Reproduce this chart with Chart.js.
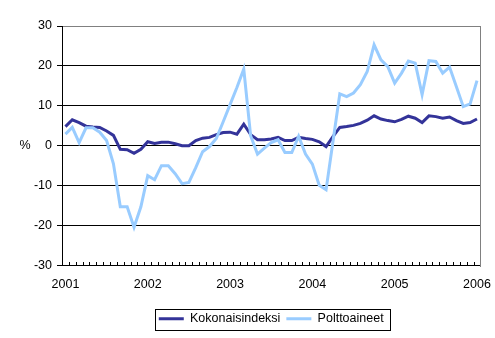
<!DOCTYPE html>
<html>
<head>
<meta charset="utf-8">
<script src="https://cdn.jsdelivr.net/npm/chart.js@4.4.1/dist/chart.umd.min.js"></script>
<style>
  html, body { margin: 0; padding: 0; background: #fff; }
  #wrap { width: 495px; height: 338px; position: relative; }
</style>
</head>
<body>
<div id="wrap"><canvas id="chart"></canvas></div>
<script>
// Year labels on the category axis
const years = ['2001', '2002', '2003', '2004', '2005', '2006'];

// One category per month, 2001/1 .. 2006/1
const months = [];
years.forEach((y, i) => {
  const last = i === years.length - 1 ? 1 : 12;
  for (let m = 1; m <= last; m++) months.push(y + '/' + m);
});

// Annual change, %
const kokonaisindeksi = [
  4.8, 6.5, 5.8, 4.9, 4.7, 4.6, 3.7, 2.6, -0.9, -1.0, -1.9, -0.9,
  1.0, 0.6, 0.9, 0.9, 0.5, 0.0, 0.0, 1.3, 1.9, 2.1, 2.8, 3.3,
  3.4, 2.9, 5.4, 2.8, 1.5, 1.5, 1.7, 2.1, 1.3, 1.3, 2.1, 1.8,
  1.6, 1.0, -0.2, 2.3, 4.6, 4.8, 5.1, 5.6, 6.4, 7.5, 6.7, 6.3,
  6.0, 6.6, 7.4, 6.9, 5.8, 7.5, 7.3, 6.9, 7.2, 6.3, 5.6, 5.8,
  6.7
];
const polttoaineet = [
  2.9, 4.6, 0.8, 4.5, 4.5, 3.4, 1.3, -4.5, -15.3, -15.3, -20.4, -15.3,
  -7.5, -8.5, -5.0, -5.0, -7.0, -9.5, -9.2, -5.5, -1.5, -0.2, 1.8, 6.0,
  10.3, 14.6, 19.2, 2.5, -2.1, -0.6, 0.8, 1.5, -1.7, -1.7, 2.4, -2.1,
  -4.6, -9.9, -11.0, 1.0, 13.0, 12.3, 13.2, 15.3, 18.6, 25.3, 21.5, 19.8,
  15.7, 18.2, 21.2, 20.7, 12.8, 21.3, 21.1, 18.2, 19.7, 14.8, 9.8, 10.5,
  16.3
];

const yMin = -30, yMax = 30, yStep = 10;

const FONT = { family: '"Liberation Sans", Arial, sans-serif', size: 12.5 };

// Plot frame, inward month ticks, unit label and legend border
const frame = {
  id: 'frame',
  afterDraw(chart) {
    const { ctx, chartArea: a, scales: { x, y } } = chart;
    ctx.save();
    ctx.lineWidth = 1;

    ctx.strokeStyle = '#808080';
    ctx.beginPath();
    const rx = Math.round(a.right) + 0.5;
    ctx.moveTo(rx, Math.round(a.top));
    ctx.lineTo(rx, Math.round(a.bottom) + 1);
    ctx.stroke();

    ctx.strokeStyle = '#000';
    const step = x.getPixelForValue(1) - x.getPixelForValue(0);
    const start = x.getPixelForValue(0) - step / 2;
    ctx.beginPath();
    for (let i = 1; i < months.length; i++) {
      const px = Math.round(start + i * step) + 0.5;
      ctx.moveTo(px, Math.round(a.bottom));
      ctx.lineTo(px, Math.round(a.bottom) - 4);
    }
    ctx.stroke();

    ctx.fillStyle = '#000';
    ctx.font = FONT.size + 'px ' + FONT.family;
    ctx.textAlign = 'center';
    ctx.textBaseline = 'middle';
    ctx.fillText('%', 25, y.getPixelForValue(0));

    const boxes = chart.legend.legendHitBoxes;
    if (boxes && boxes.length) {
      const l = Math.min(...boxes.map(b => b.left)) - 4;
      const r = Math.max(...boxes.map(b => b.left + b.width)) + 6;
      const t = Math.min(...boxes.map(b => b.top)) - 4;
      const btm = Math.max(...boxes.map(b => b.top + b.height)) + 4;
      ctx.strokeRect(Math.round(l) + 0.5, Math.round(t) + 0.5, Math.round(r - l), Math.round(btm - t));
    }
    ctx.restore();
  }
};

new Chart(document.getElementById('chart'), {
  type: 'line',
  data: {
    labels: months,
    datasets: [
      {
        label: 'Kokonaisindeksi',
        data: kokonaisindeksi,
        borderColor: '#333399',
        backgroundColor: '#333399',
        borderWidth: 3,
        pointRadius: 0,
        tension: 0,
        order: 1
      },
      {
        label: 'Polttoaineet',
        data: polttoaineet,
        borderColor: '#99ccff',
        backgroundColor: '#99ccff',
        borderWidth: 3,
        pointRadius: 0,
        tension: 0,
        order: 0
      }
    ]
  },
  options: {
    responsive: true,
    maintainAspectRatio: false,
    animation: false,
    layout: { padding: { left: 0, right: 14, top: 26, bottom: 3 } },
    plugins: {
      tooltip: { enabled: false },
      legend: {
        position: 'bottom',
        fullSize: false,
        labels: {
          color: '#000',
          font: FONT,
          boxWidth: 25,
          boxHeight: 3,
          padding: 6,
          sort: (a, b) => a.datasetIndex - b.datasetIndex,
          generateLabels(chart) {
            const items = Chart.defaults.plugins.legend.labels.generateLabels(chart);
            items.forEach(it => { it.lineWidth = 0; it.fillStyle = it.strokeStyle; });
            return items;
          }
        }
      }
    },
    scales: {
      x: {
        type: 'category',
        offset: true,
        grid: { display: false },
        border: { display: true, color: '#000', width: 1 },
        afterFit: axis => { axis.height = 41; },
        ticks: {
          color: '#000',
          font: FONT,
          autoSkip: false,
          maxRotation: 0,
          padding: 4,
          callback: (v, i) => (i % 12 === 0 ? years[i / 12] : '')
        }
      },
      y: {
        min: yMin,
        max: yMax,
        afterFit: axis => { axis.width = 62; },
        ticks: {
          stepSize: yStep,
          color: '#000',
          font: FONT,
          padding: 5
        },
        grid: {
          color: c => (c.tick && c.tick.value === yMax ? '#808080' : '#000'),
          tickColor: '#000',
          tickLength: 5,
          lineWidth: 1
        },
        border: { display: true, color: '#000', width: 1 }
      }
    }
  },
  plugins: [frame]
});
</script>
</body>
</html>
